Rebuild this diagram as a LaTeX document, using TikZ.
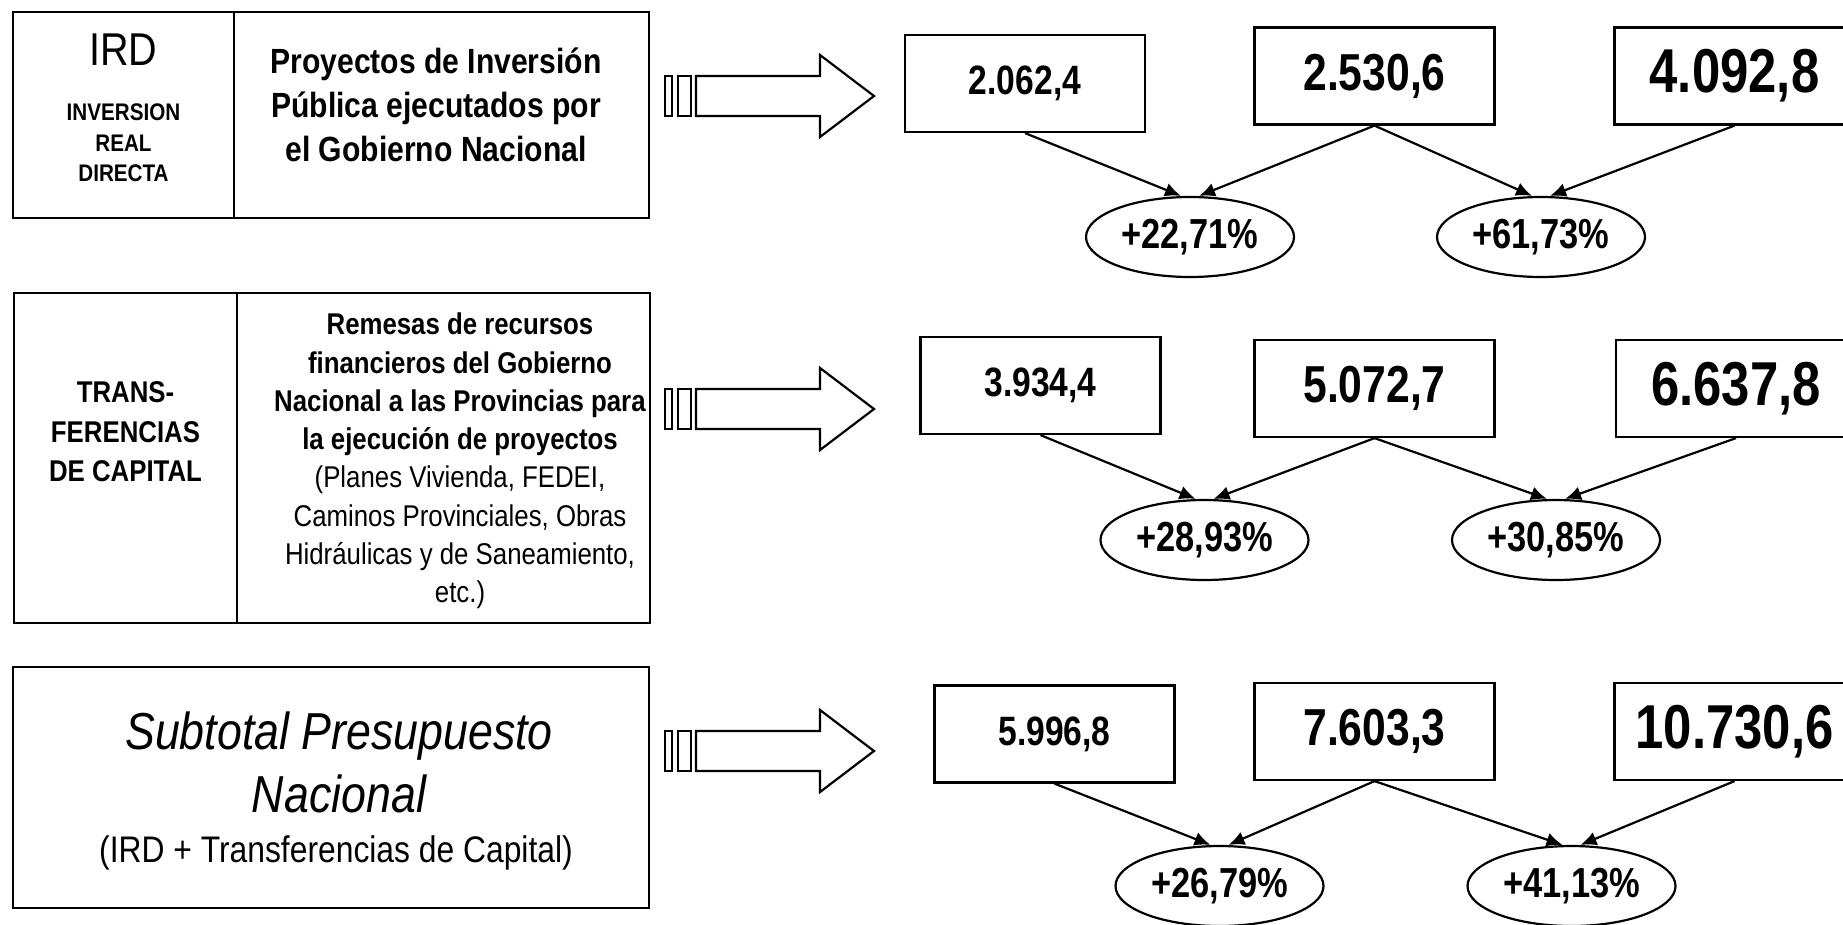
\documentclass[tikz,border=0pt]{standalone}
\usepackage{fontspec}
\setmainfont{Liberation Sans}[FakeStretch=0.86]
\newfontfamily\numfont{Liberation Sans}[FakeStretch=0.82]
\usetikzlibrary{arrows.meta,positioning,shapes.geometric}
\tikzset{
  panel/.style={draw=black, line width=2.2pt, inner sep=0pt},
  txt/.style={align=center, inner sep=0pt},
  numbox/.style={draw=black, line width=2.2pt, fill=white, minimum width=240pt,
    minimum height=97pt, inner sep=0pt},
  valsm/.style={numbox, font=\numfont\bfseries\fontsize{41}{45}\selectfont},
  valmd/.style={numbox, font=\numfont\bfseries\fontsize{52}{56}\selectfont},
  vallg/.style={numbox, font=\numfont\bfseries\fontsize{62}{66}\selectfont},
  pct/.style={ellipse, draw=black, line width=2.2pt, minimum width=208pt,
    minimum height=80pt, inner sep=0pt, font=\numfont\bfseries\fontsize{42}{46}\selectfont},
  arr/.style={-{Latex[length=16pt,width=14pt]}, line width=2.2pt},
  fat/.style={draw=black, line width=2.2pt, fill=white, line join=miter}
}
\begin{document}
\begin{tikzpicture}[x=1pt, y=-1pt]
  \useasboundingbox (0,0) rectangle (1843,924);

  % left panels
  \node[panel, minimum width=221pt, minimum height=206pt] (irdbox) at (123.5,115) {};
  \node[panel, minimum width=415pt, minimum height=206pt] (irdtext) at (441.5,115) {};
  \node[panel, minimum width=223pt, minimum height=330pt] (tcbox) at (125.5,458) {};
  \node[panel, minimum width=413pt, minimum height=330pt] (tctext) at (443.5,458) {};
  \node[panel, minimum width=636pt, minimum height=241pt] (subbox) at (331,787.5) {};

  \node[txt, font=\fontsize{46}{50}\selectfont, anchor=base] (irdtag) at (123.5,65) {IRD};
  \node[txt, font=\bfseries\fontsize{24}{30.5}\selectfont] (irdname) at (123.5,143) {INVERSION\\REAL\\DIRECTA};
  \node[txt, font=\bfseries\fontsize{35}{44}\selectfont] (irddesc) at (436,105) {Proyectos de Inversión\\Pública ejecutados por\\el Gobierno Nacional};

  \node[txt, font=\bfseries\fontsize{30}{39.5}\selectfont] (tcname) at (125.5,432) {TRANS-\\FERENCIAS\\DE CAPITAL};
  \node[txt, font=\fontsize{30}{38.3}\selectfont] (tcdesc) at (460,461) {\textbf{Remesas de recursos}\\\textbf{financieros del Gobierno}\\\textbf{Nacional a las Provincias para}\\\textbf{la ejecución de proyectos}\\(Planes Vivienda, FEDEI,\\Caminos Provinciales, Obras\\Hidráulicas y de Saneamiento,\\etc.)};

  \node[txt, font=\itshape\fontsize{52}{63}\selectfont] (subname) at (339,762) {Subtotal Presupuesto\\Nacional};
  \node[txt, font=\fontsize{37}{40}\selectfont, anchor=base] (subnote) at (336,862) {(IRD + Transferencias de Capital)};

  % block arrows
  \foreach \yy in {96,409,751}{
    \draw[fat] (665,\yy-20) rectangle (672,\yy+20);
    \draw[fat] (678,\yy-20) rectangle (691,\yy+20);
    \draw[fat] (696,\yy-20) -- (820,\yy-20) -- (820,\yy-41) -- (874,\yy)
      -- (820,\yy+41) -- (820,\yy+20) -- (696,\yy+20) -- cycle;
  }

  % values
  \node[valsm] (v11) at (1025,83.5) {2.062,4};
  \node[valmd] (v12) at (1374.5,76) {2.530,6};
  \node[vallg] (v13) at (1734.5,76) {4.092,8};
  \node[pct] (p11) at (1190,237) {+22,71\%};
  \node[pct] (p12) at (1541,237) {+61,73\%};

  \node[valsm] (v21) at (1040.5,385.5) {3.934,4};
  \node[valmd] (v22) at (1374.5,388.5) {5.072,7};
  \node[vallg] (v23) at (1736,388.5) {6.637,8};
  \node[pct] (p21) at (1204.5,540) {+28,93\%};
  \node[pct] (p22) at (1556,540) {+30,85\%};

  \node[valsm] (v31) at (1054.5,734) {5.996,8};
  \node[valmd] (v32) at (1374.5,731.5) {7.603,3};
  \node[vallg] (v33) at (1734.5,731.5) {10.730,6};
  \node[pct] (p31) at (1219.5,886) {+26,79\%};
  \node[pct] (p32) at (1571.5,886) {+41,13\%};

  \draw[arr] (v11.south) -- ([xshift=-9pt]p11.north);
  \draw[arr] (v12.south) -- ([xshift=9pt]p11.north);
  \draw[arr] (v12.south) -- ([xshift=-9pt]p12.north);
  \draw[arr] (v13.south) -- ([xshift=9pt]p12.north);

  \draw[arr] (v21.south) -- ([xshift=-9pt]p21.north);
  \draw[arr] (v22.south) -- ([xshift=9pt]p21.north);
  \draw[arr] (v22.south) -- ([xshift=-9pt]p22.north);
  \draw[arr] (v23.south) -- ([xshift=9pt]p22.north);

  \draw[arr] (v31.south) -- ([xshift=-9pt]p31.north);
  \draw[arr] (v32.south) -- ([xshift=9pt]p31.north);
  \draw[arr] (v32.south) -- ([xshift=-9pt]p32.north);
  \draw[arr] (v33.south) -- ([xshift=9pt]p32.north);
\end{tikzpicture}
\end{document}
